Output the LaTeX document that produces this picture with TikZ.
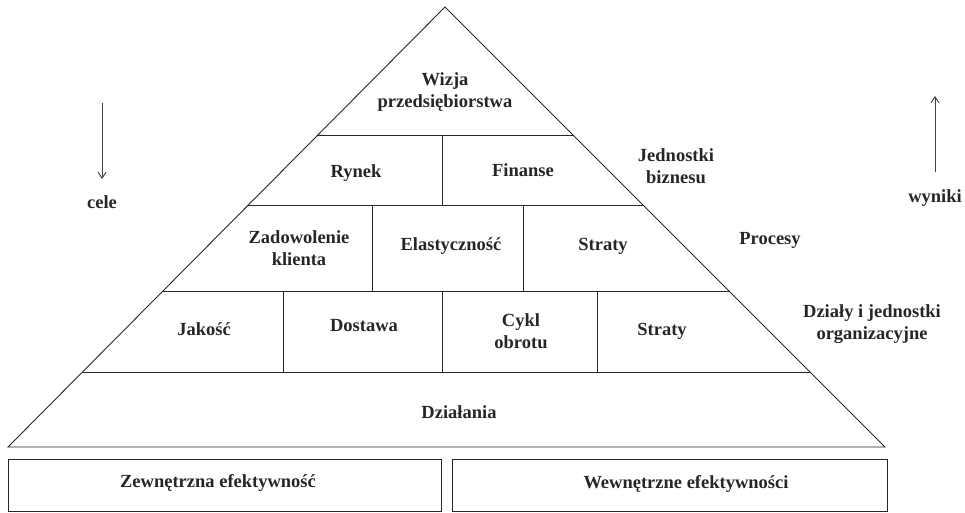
\documentclass[tikz,border=0pt]{standalone}
\usepackage{fontspec}
\setmainfont{Liberation Serif}
\newfontfamily\labelfont{Liberation Serif}
\usetikzlibrary{calc,arrows.meta}
\begin{document}
\begin{tikzpicture}[x=1pt,y=-1pt,
  edge/.style={line width=0.9pt, draw=black!85},
  lbl/.style={font=\labelfont\bfseries\fontsize{18.5}{22}\selectfont, align=center, inner sep=0pt, text=black!85},
  flow/.style={line width=0.9pt, draw=black!75, -{Straight Barb[length=6pt,width=8pt]}}]
\useasboundingbox (0,0) rectangle (965,513);

% pyramid outline
\coordinate (apex) at (445,7);
\coordinate (bl) at (8,447);
\coordinate (br) at (885,447);
\draw[edge] (apex) -- (bl) -- (br) -- cycle;

% level separators
\foreach \t in {0.2909, 0.45, 0.6455, 0.8295} {
  \draw[edge] ($(apex)!\t!(bl)$) -- ($(apex)!\t!(br)$);
}

% cell dividers
\draw[edge] (442,135) -- (442,205);
\draw[edge] (372,205) -- (372,291);
\draw[edge] (523,205) -- (523,291);
\draw[edge] (283,291) -- (283,372);
\draw[edge] (442,291) -- (442,372);
\draw[edge] (597,291) -- (597,372);

% efficiency boxes
\draw[edge] (8,459) rectangle (441,511);
\draw[edge] (452,459) rectangle (887,511);

% labels inside the pyramid
\node[lbl] (wizja) at (445,92) {Wizja\\przedsiębiorstwa};
\node[lbl] (rynek) at (356,173) {Rynek};
\node[lbl] (finanse) at (523,170) {Finanse};
\node[lbl] (zadow) at (299,248) {Zadowolenie\\klienta};
\node[lbl] (elast) at (451,246) {Elastyczność};
\node[lbl] (straty1) at (603,246) {Straty};
\node[lbl] (jakosc) at (204,329) {Jakość};
\node[lbl] (dostawa) at (364,326) {Dostawa};
\node[lbl] (cykl) at (521,331) {Cykl\\obrotu};
\node[lbl] (straty2) at (662,331) {Straty};
\node[lbl] (dzialania) at (459,412) {Działania};

% labels beside the pyramid
\node[lbl] (jedn) at (676,166) {Jednostki\\biznesu};
\node[lbl] (procesy) at (770,240) {Procesy};
\node[lbl] (dzialy) at (872,324) {Działy i jednostki\\organizacyjne};

% box labels
\node[lbl] (zewn) at (218,483) {Zewnętrzna efektywność};
\node[lbl] (wewn) at (686,484) {Wewnętrzne efektywności};

% direction arrows
\coordinate (celeTop) at (102,103);
\coordinate (celeEnd) at (102,179);
\draw[flow] (celeTop) -- (celeEnd);
\node[lbl] (cele) at (102,202) {cele};

\coordinate (wynBot) at (935,172);
\coordinate (wynTop) at (935,96);
\draw[flow] (wynBot) -- (wynTop);
\node[lbl] (wyniki) at (935,198) {wyniki};
\end{tikzpicture}
\end{document}
